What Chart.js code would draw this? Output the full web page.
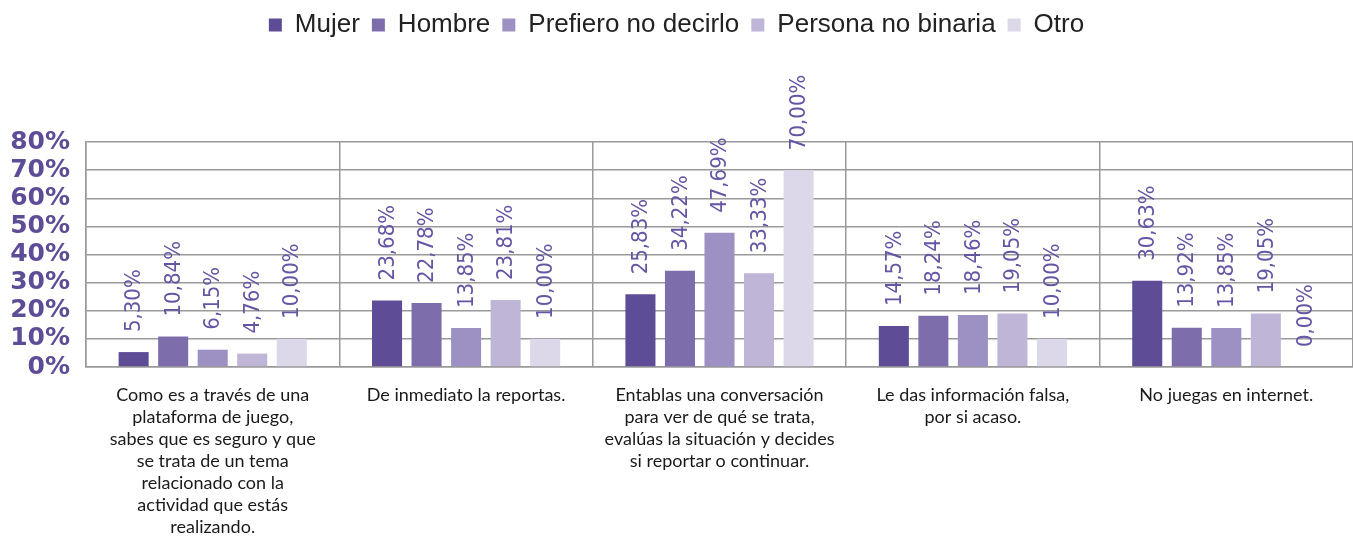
<!DOCTYPE html>
<html lang="es">
<head>
  <meta charset="UTF-8">
  <title>Reacción ante contacto en plataformas de juego</title>
  <script src="https://cdn.jsdelivr.net/npm/chart.js"></script>
  <style>
    body {
      margin: 0;
      background: #fff;
    }

    .chart-box {
      width: 1353px;
      height: 539px;
    }
  </style>
</head>
<body>

  <div class="chart-box">
    <canvas id="genderChart"></canvas>
  </div>

  <script>
    // categorías (respuestas) y porcentajes por género
    const answers = [
      ['Como es a través de una', 'plataforma de juego,', 'sabes que es seguro y que', 'se trata de un tema', 'relacionado con la', 'actividad que estás', 'realizando.'],
      ['De inmediato la reportas.'],
      ['Entablas una conversación', 'para ver de qué se trata,', 'evalúas la situación y decides', 'si reportar o continuar.'],
      ['Le das información falsa,', 'por si acaso.'],
      ['No juegas en internet.']
    ];

    const groups = ['Mujer', 'Hombre', 'Prefiero no decirlo', 'Persona no binaria', 'Otro'];

    const mujer = [5.30, 23.68, 25.83, 14.57, 30.63];
    const hombre = [10.84, 22.78, 34.22, 18.24, 13.92];
    const prefiero = [6.15, 13.85, 47.69, 18.46, 13.85];
    const noBinaria = [4.76, 23.81, 33.33, 19.05, 19.05];
    const otro = [10.00, 10.00, 70.00, 10.00, 0.00];

    const yTicks = [0, 10, 20, 30, 40, 50, 60, 70, 80];

    const colors = ['#5e4c96', '#7d6eab', '#9d90c2', '#beb5d7', '#dcd8ea'];
    const series = [mujer, hombre, prefiero, noBinaria, otro];

    const pct = v => v.toFixed(2).replace('.', ',') + '%';

    // etiquetas verticales encima de cada barra
    const barValues = {
      id: 'barValues',
      afterDatasetsDraw(chart) {
        const ctx = chart.ctx;
        ctx.save();
        ctx.font = '22px "Liberation Sans Narrow", "DejaVu Sans Condensed", sans-serif';
        ctx.fillStyle = '#6655a3';
        ctx.textAlign = 'left';
        ctx.textBaseline = 'middle';
        chart.data.datasets.forEach((ds, i) => {
          chart.getDatasetMeta(i).data.forEach((bar, j) => {
            ctx.save();
            ctx.translate(bar.x + 1, bar.y - 20);
            ctx.rotate(-Math.PI / 2);
            ctx.fillText(pct(ds.data[j]), 0, 0);
            ctx.restore();
          });
        });
        ctx.restore();
      }
    };

    // altura fija para la leyenda, así el área del gráfico empieza donde queremos
    const legendHeight = {
      id: 'legendHeight',
      beforeInit(chart) {
        const fit = chart.legend.fit;
        chart.legend.fit = function () {
          fit.call(this);
          this.height = 142;
        };
      }
    };

    new Chart(document.getElementById('genderChart'), {
      type: 'bar',
      data: {
        labels: answers,
        datasets: groups.map((g, i) => ({
          label: g,
          data: series[i],
          backgroundColor: colors[i],
          categoryPercentage: 0.78,
          barPercentage: 0.76
        }))
      },
      options: {
        responsive: true,
        maintainAspectRatio: false,
        animation: false,
        layout: { padding: 0 },
        plugins: {
          legend: {
            position: 'top',
            align: 'center',
            labels: {
              boxWidth: 13,
              boxHeight: 13,
              padding: 12,
              color: '#222',
              font: { family: '"Liberation Sans", Arial, sans-serif', size: 26 }
            }
          },
          tooltip: { enabled: false }
        },
        scales: {
          x: {
            grid: {
              color: '#9a9a9a',
              lineWidth: 1.5,
              drawTicks: false
            },
            border: { color: '#9a9a9a', width: 1.5 },
            ticks: {
              autoSkip: false,
              maxRotation: 0,
              minRotation: 0,
              padding: 17,
              color: '#1a1a1a',
              font: { family: 'Lato, "Open Sans", sans-serif', size: 18, lineHeight: 1.22 }
            },
            afterFit(scale) {
              scale.height = 172;
            }
          },
          y: {
            min: 0,
            max: 80,
            afterBuildTicks(scale) {
              scale.ticks = yTicks.map(v => ({ value: v }));
            },
            grid: {
              color: '#9a9a9a',
              lineWidth: 1.5,
              drawTicks: false
            },
            border: { color: '#9a9a9a', width: 1.5 },
            ticks: {
              autoSkip: false,
              padding: 16,
              color: '#5e4c96',
              font: { family: '"DejaVu Sans", sans-serif', size: 25, weight: 'bold', lineHeight: 1 },
              callback: v => v + '%'
            },
            afterFit(scale) {
              scale.width = 86;
            }
          }
        }
      },
      plugins: [legendHeight, barValues]
    });
  </script>

</body>
</html>
